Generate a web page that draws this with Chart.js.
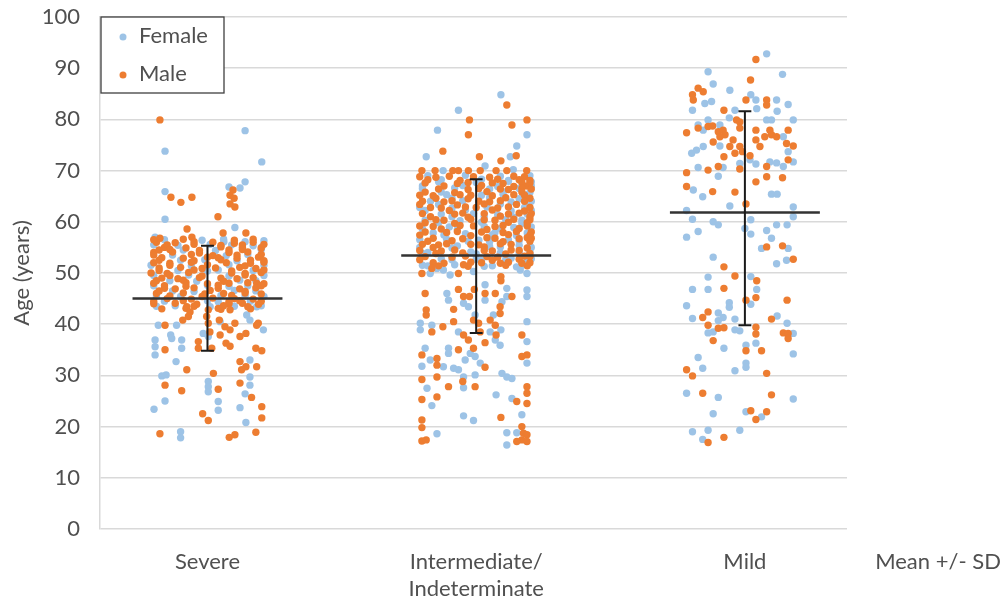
<!DOCTYPE html>
<html>
<head>
<meta charset="utf-8">
<script src="https://cdn.jsdelivr.net/npm/chart.js@4.4.1/dist/chart.umd.min.js"></script>
<style>
  html, body { margin: 0; padding: 0; background: #fff; }
  #wrap { width: 1004px; height: 604px; }
</style>
</head>
<body>
<div id="wrap"><canvas id="grafica" width="1004" height="604"></canvas></div>
<script>
// ==============================
// DATA (offset from category centre, age in years)
// ==============================
const categories = ["Severe", ["Intermediate/", "Indeterminate"], "Mild"];
const categoryPos = [1, 2, 3];
const yTicks = [0, 10, 20, 30, 40, 50, 60, 70, 80, 90, 100];
const meanAge = [45.0, 53.4, 61.8];
const sdLow = [34.8, 38.3, 39.8];
const sdHigh = [55.3, 68.3, 81.6];

const femaleSevere = [
  [0.14,77.8],[-0.158,73.8],[0.202,71.7],[0.14,67.8],[0.08,66.8],[0.121,66.6],[-0.158,65.9],[-0.158,60.5],
  [0.102,58.9],[-0.195,57.0],[0.061,56.1],[0.14,56.1],[0.202,55.1],
  [-0.16,56.5],[-0.02,56.4],[0.06,56.6],[0.21,56.3],
  [-0.20,55.5],[-0.11,55.4],[0.01,55.6],[0.09,55.5],[0.17,55.3],
  [-0.09,54.5],[0.03,54.4],[0.20,54.6],
  [-0.13,53.5],[0.07,53.4],[0.15,53.6],
  [-0.10,52.5],[-0.01,52.6],[0.11,52.4],
  [-0.21,51.5],[-0.06,51.4],[0.08,51.6],[0.21,51.5],
  [-0.11,50.5],[0.0,50.4],[0.04,50.6],[0.17,50.5],
  [-0.20,49.5],[-0.07,49.6],[0.08,49.4],[0.21,49.5],
  [-0.14,48.5],[-0.04,48.4],[0.12,48.6],[0.18,48.5],
  [-0.20,47.5],[0.0,47.6],[0.08,47.4],[0.15,47.5],
  [-0.13,46.5],[-0.05,46.4],[0.10,46.6],[0.18,46.5],
  [-0.19,45.5],[-0.10,45.4],[0.05,45.6],[0.14,45.5],[0.21,45.4],
  [-0.16,44.5],[0.0,44.6],[0.04,44.4],[0.16,44.5],
  [-0.19,43.5],[-0.12,43.6],[0.01,43.4],[0.10,43.5],[0.20,43.6],
  [0.047,40.5],[-0.016,38.2],[0.003,37.6],[0.146,41.8],[0.158,40.8],[0.208,38.9],[0.183,43.4],
  [-0.195,36.9],[-0.195,35.6],[-0.195,34.0],[-0.137,37.9],[-0.133,37.2],[-0.183,39.8],[-0.115,39.8],
  [-0.096,36.9],[-0.096,35.3],[-0.117,32.7],[-0.17,29.9],[-0.154,30.1],[0.003,28.8],[0.003,27.8],
  [0.003,26.8],[0.158,33.0],[0.158,29.7],[0.158,28.1],[0.14,26.4],[0.04,24.9],[0.04,23.2],
  [-0.199,23.4],[-0.158,25.0],[0.121,23.7],[0.143,20.8],[-0.1,19.0],[-0.1,17.8]
];

const maleSevere = [
  [-0.177,79.9],[0.095,66.2],[0.084,65.2],[0.099,64.6],[0.084,63.5],[0.102,62.9],[-0.136,64.8],[-0.099,63.8],
  [-0.058,64.8],[0.039,61.0],[-0.076,58.6],[0.058,57.8],[0.143,57.8],[-0.177,56.8],[-0.058,57.0],
  [-0.19,56.0],[-0.12,55.9],[-0.05,56.1],[0.02,56.0],[0.10,55.8],[0.17,56.0],
  [-0.20,56.5],[-0.09,56.6],[0.10,56.4],[0.17,56.6],
  [-0.16,55.0],[-0.08,54.9],[0.05,55.1],[0.13,55.0],[0.20,54.9],
  [-0.15,55.5],[-0.05,55.6],[0.05,55.4],[0.13,55.5],[0.21,55.6],
  [-0.20,54.0],[-0.13,54.1],[-0.03,53.9],[0.08,54.0],[0.15,54.1],
  [-0.18,54.5],[-0.14,54.6],[-0.03,54.4],[0.08,54.5],[0.13,54.6],
  [-0.17,53.0],[-0.09,52.9],[0.0,53.1],[0.04,53.0],[0.11,52.9],[0.19,53.1],
  [-0.20,53.5],[-0.06,53.6],[0.02,53.4],[0.11,53.5],[0.20,53.6],
  [-0.20,52.0],[-0.14,51.9],[-0.06,52.1],[0.07,52.0],[0.16,51.9],[0.21,52.1],
  [-0.18,52.5],[-0.05,52.4],[0.05,52.6],[0.16,52.5],[0.21,52.4],
  [-0.18,51.0],[-0.10,51.1],[-0.02,50.9],[0.03,51.0],[0.12,51.1],[0.18,50.9],
  [-0.14,51.5],[0.0,51.6],[0.14,51.4],
  [-0.21,50.0],[-0.15,49.9],[-0.07,50.1],[0.09,50.0],[0.14,49.9],[0.20,50.1],
  [-0.18,50.5],[-0.05,50.6],[0.09,50.4],[0.21,50.6],
  [-0.17,49.0],[-0.11,48.9],[-0.03,49.1],[0.05,49.0],[0.11,48.9],[0.17,49.1],
  [-0.14,49.5],[-0.02,49.4],[0.14,49.6],
  [-0.20,48.0],[-0.08,48.1],[0.0,47.9],[0.08,48.0],[0.15,48.1],[0.21,47.9],[0.183,48.0],
  [-0.19,48.5],[-0.09,48.6],[0.06,48.4],
  [-0.16,47.0],[-0.12,46.9],[-0.05,47.1],[0.04,47.0],[0.12,46.9],[0.18,47.1],
  [-0.16,47.5],[-0.08,47.4],[0.04,47.6],[0.20,47.5],
  [-0.19,46.0],[-0.09,46.1],[-0.01,45.9],[0.06,46.0],[0.14,46.1],[0.20,45.9],
  [-0.18,46.5],[0.01,46.6],[0.14,46.4],
  [-0.15,45.0],[-0.06,44.9],[0.02,45.1],[0.10,45.0],[0.17,44.9],
  [-0.14,45.5],[-0.02,45.4],[0.09,45.6],
  [-0.20,44.0],[-0.12,44.1],[-0.04,43.9],[0.08,44.0],[0.13,44.1],[0.19,43.9],
  [-0.20,44.5],[-0.09,44.6],[0.08,44.4],[0.12,44.6],[0.20,44.5],
  [-0.17,43.0],[-0.08,43.1],[0.05,42.9],[0.16,43.0],
  [-0.05,43.5],[0.06,43.6],[0.15,43.4],
  [-0.077,43.4],[-0.065,42.4],[-0.071,41.5],[-0.092,40.8],[0.003,42.8],[-0.003,41.5],[0.003,40.2],
  [0.009,38.5],[-0.034,36.6],[-0.034,35.3],[0.016,35.3],[0.04,43.1],[0.044,40.8],[0.084,42.8],
  [0.065,39.5],[0.084,38.9],[0.102,40.2],[0.047,37.9],[0.069,36.3],[0.084,35.7],[0.121,37.6],
  [0.143,38.2],[0.183,39.8],[0.189,40.2],[-0.158,39.8],[-0.158,35.0],[-0.077,31.1],[-0.158,28.1],
  [-0.096,27.0],[0.04,27.3],[0.022,30.4],[0.121,32.7],[0.143,31.7],[0.127,31.1],[0.18,35.3],
  [0.202,34.8],[0.183,31.7],[0.121,28.5],[0.164,25.7],[-0.018,22.5],[0.003,21.2],[0.202,23.9],
  [0.202,21.7],[-0.177,18.6],[0.081,17.9],[0.102,18.4],[0.18,18.9]
];

const femaleInter = [
  [0.092,84.8],[-0.066,81.8],[-0.144,77.9],[0.189,77.0],[0.151,74.8],[-0.186,72.7],[0.033,70.9],[0.127,72.7],
  [-0.123,70.0],[0.138,70.2],
  [-0.18,69.0],[-0.04,69.1],[0.09,68.9],[0.20,69.0],
  [-0.13,68.2],[0.02,68.3],[0.12,68.1],
  [-0.14,67.8],[0.0,67.7],[0.12,67.9],[0.205,67.8],
  [-0.20,67.0],[-0.05,67.1],[0.08,66.9],[0.205,67.0],
  [-0.20,66.5],[-0.08,66.6],[0.05,66.4],[0.16,66.5],
  [-0.13,65.8],[0.10,65.9],[0.20,65.7],
  [-0.11,65.3],[0.02,65.2],[0.10,65.4],[0.19,65.3],
  [-0.09,64.6],[0.05,64.7],[0.16,64.5],
  [-0.17,64.0],[-0.05,64.1],[0.13,63.9],[0.205,64.0],
  [-0.14,63.4],[0.09,63.5],[0.19,63.3],
  [-0.21,62.8],[-0.09,62.7],[0.04,62.9],[0.18,62.8],
  [-0.19,62.2],[-0.04,62.3],[0.13,62.1],[0.205,62.2],
  [-0.13,61.5],[-0.01,61.6],[0.08,61.4],[0.19,61.5],
  [-0.09,61.0],[0.03,61.1],[0.14,60.9],
  [-0.19,60.3],[-0.06,60.2],[0.11,60.4],[0.17,60.3],
  [-0.14,59.8],[0.02,59.9],[0.17,59.7],
  [-0.10,59.0],[0.03,59.1],[0.14,58.9],[0.205,59.0],
  [-0.20,58.6],[-0.07,58.5],[0.09,58.7],[0.20,58.6],
  [-0.16,57.8],[-0.04,57.7],[0.07,57.9],[0.19,57.8],
  [-0.12,57.4],[0.06,57.5],[0.15,57.3],
  [-0.21,56.5],[-0.11,56.6],[0.01,56.4],[0.12,56.5],
  [-0.03,56.2],[0.05,56.1],[0.16,56.3],
  [-0.07,55.3],[0.05,55.2],[0.16,55.4],[0.20,55.3],
  [-0.21,55.0],[-0.09,54.9],[0.09,55.1],[0.205,55.0],
  [-0.18,54.0],[-0.02,54.1],[0.09,53.9],[0.20,54.0],
  [-0.20,53.8],[0.00,53.7],[0.16,53.9],
  [-0.13,52.8],[0.0,52.7],[0.13,52.9],[0.205,52.8],
  [-0.09,52.6],[0.02,52.5],[0.11,52.7],[0.19,52.6],
  [-0.20,51.5],[-0.08,51.6],[0.06,51.4],[0.17,51.5],
  [-0.18,51.4],[0.03,51.3],[0.15,51.2],
  [-0.171,49.9],[-0.146,50.9],[-0.122,50.6],[-0.097,49.6],[-0.01,50.3],[0.114,47.0],[0.114,45.4],
  [0.096,44.4],[0.164,50.6],[0.189,49.9],[0.189,46.7],[0.189,45.4],[-0.109,46.0],[-0.103,44.7],
  [-0.047,44.1],[-0.029,43.4],[0.033,47.7],[0.033,44.7],[-0.004,41.8],[0.064,41.8],[-0.208,40.2],
  [-0.208,38.9],[-0.165,39.8],[-0.066,38.5],[0.052,38.5],[0.071,36.9],[0.089,35.9],[0.092,38.9],
  [0.189,40.5],[0.189,36.6],[0.189,32.4],[-0.19,35.3],[-0.202,31.8],[-0.171,33.0],[-0.122,31.7],
  [-0.103,35.3],[-0.103,34.3],[-0.041,33.0],[-0.022,34.3],[-0.004,33.7],[0.015,32.4],[-0.084,31.4],
  [-0.066,31.1],[-0.047,29.7],[-0.004,30.1],[0.096,30.4],[0.114,29.7],[0.133,29.4],[-0.183,27.5],
  [-0.047,27.6],[-0.165,24.1],[0.074,26.2],[0.133,25.5],[0.17,22.3],[-0.047,22.1],[-0.01,21.2],
  [-0.146,18.6],[0.114,18.8],[0.151,18.8],[0.114,16.4]
];

const maleInter = [
  [0.114,82.8],[-0.025,79.9],[0.189,79.9],[0.133,78.9],[-0.029,77.0],[-0.124,73.8],[0.012,72.7],
  [0.092,71.9],[0.149,72.9],
  [-0.202,70.0],[-0.153,70.0],[-0.087,70.0],[-0.066,70.0],[-0.029,70.0],[0.015,70.0],[0.074,70.0],
  [0.114,70.0],[0.188,70.0],
  [-0.21,68.8],[-0.15,68.7],[-0.10,68.9],[-0.01,68.8],[0.05,68.7],[0.14,68.9],[0.18,68.8],
  [-0.18,68.2],[-0.06,68.1],[0.08,68.3],[0.16,68.2],[0.20,68.1],
  [-0.19,67.6],[-0.07,67.5],[-0.03,67.7],[0.06,67.6],[0.10,67.5],[0.17,67.7],[0.20,67.6],
  [-0.12,67.0],[0.02,67.1],[0.14,66.9],[0.19,67.0],
  [-0.14,66.4],[-0.03,66.3],[0.01,66.5],[0.09,66.4],[0.12,66.3],[0.17,66.5],[0.205,66.4],
  [-0.19,65.8],[-0.08,65.7],[0.04,65.9],[0.17,65.8],
  [-0.21,65.2],[-0.16,65.1],[-0.06,65.3],[-0.02,65.2],[0.06,65.1],[0.14,65.3],[0.18,65.2],
  [-0.15,64.6],[-0.03,64.5],[0.11,64.7],[0.20,64.6],
  [-0.20,64.0],[-0.12,63.9],[-0.09,64.1],[0.01,64.0],[0.05,63.9],[0.09,64.1],[0.18,64.0],
  [-0.21,63.4],[-0.07,63.3],[0.03,63.5],[0.15,63.4],
  [-0.17,62.8],[-0.13,62.7],[-0.04,62.9],[0.00,62.8],[0.08,62.7],[0.12,62.9],[0.20,62.8],
  [-0.10,62.2],[0.06,62.3],[0.18,62.1],
  [-0.20,61.6],[-0.08,61.5],[-0.05,61.7],[0.03,61.6],[0.12,61.5],[0.16,61.7],[0.205,61.6],
  [-0.17,61.0],[-0.03,60.9],[0.09,61.1],[0.20,61.0],
  [-0.15,60.4],[-0.12,60.3],[-0.02,60.5],[0.03,60.4],[0.07,60.3],[0.14,60.5],[0.20,60.4],
  [-0.19,59.8],[-0.08,59.7],[0.12,59.9],[0.19,59.8],
  [-0.21,59.2],[-0.16,59.1],[-0.06,59.3],[-0.01,59.2],[0.07,59.1],[0.10,59.3],[0.19,59.2],
  [-0.13,58.6],[0.04,58.5],[0.16,58.7],
  [-0.19,58.0],[-0.11,57.9],[-0.07,58.1],[0.02,58.0],[0.10,57.9],[0.15,58.1],[0.205,58.0],
  [-0.21,57.4],[-0.02,57.3],[0.12,57.5],[0.20,57.4],
  [-0.16,56.8],[-0.05,56.7],[0.04,56.9],[0.07,56.8],[0.16,56.7],[0.19,56.9],[0.205,56.8],
  [-0.18,56.2],[-0.09,56.3],[0.10,56.1],[0.20,56.2],
  [-0.20,55.6],[-0.14,55.5],[-0.11,55.7],[-0.02,55.6],[0.01,55.5],[0.09,55.7],[0.13,55.6],
  [-0.16,55.0],[0.03,55.1],[0.19,54.9],
  [-0.21,54.4],[-0.13,54.3],[-0.08,54.5],[0.03,54.4],[0.06,54.3],[0.13,54.5],[0.16,54.4],
  [-0.15,53.8],[-0.05,53.9],[0.11,53.7],[0.20,53.8],
  [-0.19,53.2],[-0.09,53.1],[-0.04,53.3],[0.04,53.2],[0.08,53.1],[0.18,53.3],[0.20,53.2],
  [-0.21,52.6],[0.06,52.5],[0.16,52.7],
  [-0.16,52.0],[-0.12,51.9],[-0.02,52.1],[0.02,52.0],[0.09,51.9],[0.12,52.1],[0.20,52.0],
  [-0.14,51.4],[-0.03,51.3],[0.11,51.5],[0.19,51.4],
  [-0.202,49.9],[-0.165,50.9],[-0.066,49.9],[-0.047,51.6],[0.092,49.3],[0.092,48.5],[0.133,45.4],
  [0.17,51.9],[-0.19,46.0],[-0.066,46.8],[-0.047,45.4],[-0.025,45.4],[-0.007,46.8],[0.033,46.0],
  [0.071,46.0],[-0.084,42.9],[-0.186,42.8],[-0.186,41.8],[0.089,43.4],[0.089,42.1],[-0.01,40.8],
  [0.009,40.2],[0.015,38.5],[0.052,40.8],[0.071,39.8],[-0.165,38.5],[-0.124,39.5],[-0.084,40.5],
  [-0.047,37.9],[-0.029,36.9],[-0.01,35.3],[0.033,36.4],[0.074,37.9],[0.17,37.9],[0.17,33.7],
  [0.189,34.0],[-0.202,34.0],[-0.146,33.3],[-0.146,32.0],[-0.146,29.7],[-0.066,35.0],[0.033,31.6],
  [-0.05,28.8],[-0.004,27.8],[-0.202,29.2],[-0.103,27.8],[0.189,27.8],[0.189,26.5],[-0.202,25.3],
  [-0.146,25.8],[0.151,24.9],[0.189,24.5],[0.092,21.8],[-0.202,21.3],[-0.202,19.8],[-0.202,17.2],
  [-0.186,17.4],[0.17,20.0],[0.176,18.7],[0.189,18.4],[0.17,17.4],[0.151,17.1],[0.189,17.1]
];

const femaleMild = [
  [0.081,92.8],[-0.137,89.3],[0.140,88.8],[-0.118,86.9],[-0.056,85.7],[-0.124,83.5],[-0.149,83.1],
  [-0.195,81.8],[0.022,84.8],[0.041,83.8],[0.118,83.8],[0.161,82.9],[0.044,82.1],[-0.037,81.8],
  [0.120,81.6],[-0.058,80.3],[0.081,79.9],[0.099,79.9],[0.180,79.9],[-0.174,78.9],[-0.137,79.9],
  [-0.155,77.9],[-0.093,78.9],[0.143,76.6],[-0.155,74.7],[-0.180,74.0],[-0.198,73.4],[-0.093,74.8],
  [0.161,73.7],[0.180,71.7],[0.019,72.1],[0.041,71.3],[0.093,71.7],[0.118,71.5],[0.143,70.8],
  [-0.081,70.6],[-0.174,70.6],[-0.019,71.4],[-0.099,68.9],[-0.192,66.2],[-0.157,64.9],[0.099,65.4],
  [0.120,65.4],[-0.056,63.1],[0.180,62.9],[-0.217,62.2],[0.180,61.0],[-0.195,60.5],[-0.118,60.0],
  [-0.099,59.4],[0.022,60.4],[0.118,59.4],[0.157,59.4],[-0.174,58.1],[0.0,58.7],[0.081,58.3],
  [-0.217,57.0],[0.022,57.6],[0.099,56.8],[0.062,54.8],[0.161,54.8],[0.155,52.5],[0.118,51.8],
  [-0.118,53.1],[-0.137,49.2],[0.022,49.3],[0.044,46.8],[-0.195,46.8],[-0.137,46.8],[-0.058,44.2],
  [-0.058,43.3],[-0.217,43.6],[0.022,43.9],[-0.099,42.2],[-0.081,41.3],[-0.195,41.1],[-0.099,40.7],
  [-0.037,41.0],[0.120,41.6],[0.157,40.2],[-0.037,38.9],[-0.019,38.7],[0.180,38.2],[-0.137,38.3],
  [-0.118,38.5],[0.041,36.3],[0.004,35.9],[-0.078,35.3],[0.180,34.2],[-0.174,33.5],[0.004,32.4],
  [0.004,31.6],[-0.157,31.4],[-0.037,30.9],[-0.217,26.5],[-0.099,25.7],[0.180,25.4],[0.004,22.9],
  [0.062,21.9],[-0.118,22.5],[-0.195,19.0],[-0.137,19.3],[-0.157,17.5],[-0.019,19.3]
];

const maleMild = [
  [0.041,91.7],[0.021,87.7],[-0.174,86.1],[-0.155,85.4],[-0.195,84.8],[-0.192,83.8],[0.004,83.8],
  [0.081,83.8],[0.081,82.8],[-0.078,81.8],[-0.031,79.9],[-0.019,79.5],[-0.217,77.4],[-0.174,78.3],
  [-0.137,78.6],[-0.120,78.7],[-0.099,77.6],[-0.081,77.9],[-0.074,77.0],[-0.093,76.6],[-0.019,78.3],
  [0.041,77.9],[0.093,77.9],[0.161,77.9],[0.074,76.6],[0.099,77.0],[0.118,76.6],[-0.044,76.0],
  [0.041,76.0],[-0.118,75.6],[0.056,74.7],[0.155,75.3],[0.180,74.8],[-0.056,74.7],[-0.019,74.7],
  [-0.037,73.4],[-0.009,73.7],[0.019,72.9],[-0.078,72.7],[0.161,72.1],[-0.099,70.8],[-0.019,70.3],
  [-0.137,70.1],[-0.217,69.6],[0.081,70.8],[0.081,68.8],[0.140,68.6],[0.041,67.8],[-0.217,66.9],
  [-0.120,65.9],[-0.037,65.8],[0.004,63.5],[0.081,55.1],[0.140,55.3],[0.180,52.7],[-0.078,51.2],
  [-0.037,49.4],[0.044,48.5],[-0.078,47.0],[0.004,44.7],[0.041,45.2],[0.157,44.7],[-0.137,42.4],
  [-0.157,41.3],[0.099,41.0],[-0.137,39.8],[-0.099,39.2],[-0.078,39.3],[0.041,39.4],[0.041,38.1],
  [0.143,38.3],[0.161,38.2],[0.161,37.2],[-0.118,36.8],[0.004,34.8],[0.062,34.8],[-0.217,31.1],
  [-0.195,29.9],[0.081,30.4],[-0.157,26.5],[0.099,26.2],[0.022,23.1],[0.081,22.9],[0.041,21.4],
  [-0.137,16.9],[-0.078,17.9]
];

// ==============================
// BUILD POINTS FROM THE ARRAYS
// ==============================
function toPoints(pos, list) {
  return list.map(p => ({ x: pos + p[0], y: p[1] }));
}

const femalePoints = [].concat(
  toPoints(categoryPos[0], femaleSevere),
  toPoints(categoryPos[1], femaleInter),
  toPoints(categoryPos[2], femaleMild)
);
const malePoints = [].concat(
  toPoints(categoryPos[0], maleSevere),
  toPoints(categoryPos[1], maleInter),
  toPoints(categoryPos[2], maleMild)
);

const meanHalf = 0.279;
const capHalf = 0.024;
const meanLines = [];
const sdBars = [];
categoryPos.forEach((c, i) => {
  const m = meanAge[i], lo = sdLow[i], hi = sdHigh[i];
  meanLines.push({ x: c - meanHalf, y: m }, { x: c + meanHalf, y: m }, { x: c, y: null });
  sdBars.push(
    { x: c, y: lo }, { x: c, y: hi }, { x: c, y: null },
    { x: c - capHalf, y: hi }, { x: c + capHalf, y: hi }, { x: c, y: null },
    { x: c - capHalf, y: lo }, { x: c + capHalf, y: lo }, { x: c, y: null }
  );
});

const FONT = "Lato, 'Open Sans', sans-serif";
const TEXT = "#505050";

// ==============================
// LEGEND BOX + EXTRA LABEL
// ==============================
const excelLegend = {
  id: "excelLegend",
  afterDraw(chart) {
    const { ctx, chartArea } = chart;
    const bx = chartArea.left + 1, by = chartArea.top;
    ctx.save();
    ctx.fillStyle = "#ffffff";
    ctx.fillRect(bx, by, 123, 76);
    ctx.strokeStyle = "#404040";
    ctx.lineWidth = 1.3;
    ctx.strokeRect(bx, by, 123, 76);

    ctx.font = "22px " + FONT;
    ctx.textBaseline = "middle";
    ctx.textAlign = "left";
    [0, 1].forEach((i) => {
      const ds = chart.data.datasets[i];
      const yy = by + 19 + i * 38;
      ctx.fillStyle = ds.backgroundColor;
      ctx.beginPath();
      ctx.arc(bx + 22, yy + 1, 3.5, 0, Math.PI * 2);
      ctx.fill();
      ctx.fillStyle = TEXT;
      ctx.fillText(ds.label, bx + 38, yy);
    });

    ctx.textAlign = "center";
    ctx.fillText("Mean +/- SD", chartArea.right + 91, chartArea.bottom + 33);
    ctx.restore();
  }
};

// ==============================
// CHART
// ==============================
new Chart(document.getElementById("grafica"), {
  type: "scatter",
  data: {
    datasets: [
      {
        label: "Female",
        data: femalePoints,
        backgroundColor: "#9DC3E6",
        pointRadius: 3.7,
        pointBorderWidth: 0,
        order: 3
      },
      {
        label: "Male",
        data: malePoints,
        backgroundColor: "#ED7D31",
        pointRadius: 3.7,
        pointBorderWidth: 0,
        order: 2
      },
      {
        label: "Mean",
        data: meanLines,
        showLine: true,
        spanGaps: false,
        borderColor: "#333333",
        borderWidth: 2.5,
        pointRadius: 0,
        order: 1
      },
      {
        label: "SD",
        data: sdBars,
        showLine: true,
        spanGaps: false,
        borderColor: "#1a1a1a",
        borderWidth: 2,
        pointRadius: 0,
        order: 0
      }
    ]
  },
  options: {
    responsive: false,
    animation: false,
    devicePixelRatio: 1,
    layout: { padding: { top: 0, right: 157, bottom: 0, left: 0 } },
    plugins: {
      legend: { display: false },
      tooltip: { enabled: false }
    },
    scales: {
      x: {
        type: "linear",
        min: 0.6,
        max: 3.38,
        afterBuildTicks(scale) {
          scale.ticks = categoryPos.map(v => ({ value: v }));
        },
        afterFit(scale) { scale.height = 75; },
        ticks: {
          autoSkip: false,
          maxRotation: 0,
          padding: 20,
          color: TEXT,
          font: { family: FONT, size: 22 },
          callback(value) {
            const i = categoryPos.indexOf(value);
            return i >= 0 ? categories[i] : "";
          }
        },
        grid: { display: false, drawTicks: false },
        border: { display: false }
      },
      y: {
        min: 0,
        max: 100,
        afterBuildTicks(scale) {
          scale.ticks = yTicks.map(v => ({ value: v }));
        },
        afterFit(scale) {
          scale.width = 100;
          scale.paddingTop = 17;
          scale.paddingBottom = 0;
        },
        ticks: {
          padding: 20,
          color: TEXT,
          font: { family: FONT, size: 22 }
        },
        grid: { color: "#d9d9d9", lineWidth: 1.5, drawTicks: false },
        border: { color: "#d9d9d9", width: 1.5 },
        title: {
          display: true,
          text: "Age (years)",
          color: TEXT,
          font: { family: FONT, size: 22 },
          padding: { top: 9, bottom: 0 }
        }
      }
    }
  },
  plugins: [excelLegend]
});
</script>
</body>
</html>
